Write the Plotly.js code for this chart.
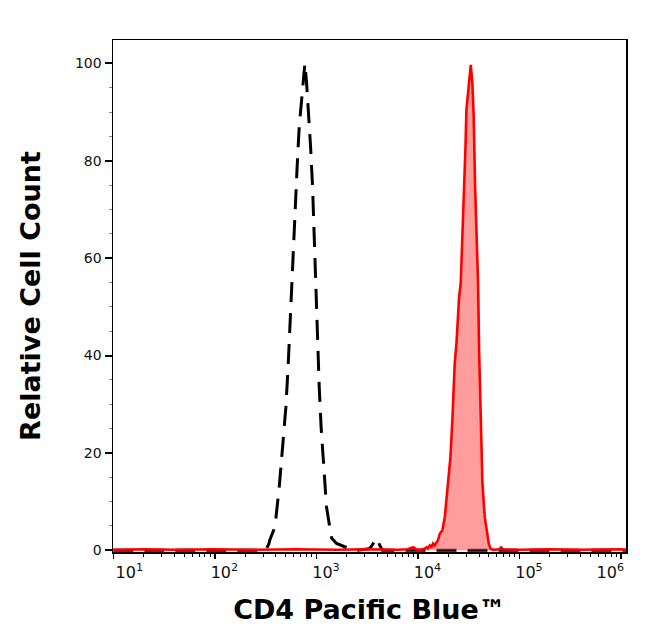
<!DOCTYPE html>
<html>
<head>
<meta charset="utf-8">
<script src="https://cdn.plot.ly/plotly-3.0.1.min.js"></script>
<style>html,body{margin:0;padding:0;background:#fff;}#chart{width:646px;height:641px;}</style>
</head>
<body>
<div id="chart"></div>
<script>
// Control (dashed black) histogram: fluorescence intensity vs relative count
const controlX = [10, 30, 100, 200, 316, 339, 348, 391, 431, 465, 501, 527, 548, 570, 592, 624, 647, 678, 715, 728, 750, 771,
  802, 830, 877, 918, 944, 973, 1005, 1042, 1067, 1114, 1186, 1259, 1337, 1413, 1581, 1778, 2138, 2512,
  3311, 3491, 3715, 3981, 4169, 4467, 10000, 100000, 1000000, 1122000];
const controlY = [0, 0, 0, 0, 0, 1.2, 2.1, 4.8, 13, 21.2, 29.4, 37.7, 45.9, 54.1, 62.3, 70.5, 78.8, 87.0, 91.8, 93.5, 96, 100,
  95.9, 91.1, 82.9, 74.6, 66.4, 58.2, 50, 41.8, 33.6, 25.3, 17.1, 8.9, 5.5, 2.5, 1.4, 1.0, 0.3, 0,
  0.3, 0.8, 1.8, 2.5, 1.2, 0, 0, 0, 0, 0];

// CD4 Pacific Blue stained histogram (red, filled)
const stainedX = [9.94, 20, 40, 100, 251, 631, 1585, 3162, 6310, 7943, 8650, 9120, 9550, 10470, 11700, 12160, 12590, 13090,
  13650, 14130, 14620, 15240, 15810, 16440, 17460, 18410, 19820, 20940, 21930, 22540, 23070, 23990, 24890, 25470,
  26420, 27230, 28510, 29380, 30060, 31190, 33190, 34430, 35480, 36560, 37760, 39170, 40090, 41300, 43250, 45600,
  47970, 49890, 51880, 54950, 63100, 66070, 69180, 100000, 199500, 398100, 1000000, 1122000];
const stainedY = [0.1, 0.2, 0.1, 0.2, 0.1, 0.2, 0.1, 0.2, 0.1, 0.2, 0.5, 0.6, 0.2, 0.1, 0.3, 0.6, 0.4, 1.0,
  0.7, 1.4, 1.0, 1.5, 2.1, 3.4, 4.1, 6.8, 13.7, 19.2, 27.4, 34.2, 38.4, 42.5, 47.9, 52,
  54.8, 61.6, 71.9, 82.2, 90.4, 94.5, 99.7, 95.9, 89, 75.3, 65.1, 54.8, 41.1, 27.4, 13.7, 6.8,
  3.4, 1.4, 0.3, 0.1, 0.2, 0.6, 0.2, 0.1, 0.2, 0.1, 0.2, 0.1];

const decadeVals = [10, 100, 1000, 10000, 100000, 1000000];
const decadeText = ['10<sup>1</sup>', '10<sup>2</sup>', '10<sup>3</sup>', '10<sup>4</sup>', '10<sup>5</sup>', '10<sup>6</sup>'];
const yTickVals = [0, 20, 40, 60, 80, 100];

// label placement offsets (px) relative to each decade tick, styling only
const labelShiftPx = [16, 9.6, 9.6, 9.6, 9.6, -10.6];
const pxPerDecade = 101.6;
const labelVals = decadeVals.map((v, i) => v * Math.pow(10, labelShiftPx[i] / pxPerDecade));

const xRange = [0.997, 6.05];
const font = 'DejaVu Sans, Verdana, sans-serif';

const traces = [
  {
    x: controlX, y: controlY, type: 'scatter', mode: 'lines',
    line: {color: '#000000', width: 3, dash: '20px,11px', shape: 'linear'},
    xaxis: 'x', yaxis: 'y', hoverinfo: 'skip', showlegend: false
  },
  {
    x: stainedX, y: stainedY, type: 'scatter', mode: 'lines',
    fill: 'tozeroy', fillcolor: 'rgba(255,60,60,0.5)',
    line: {color: '#ff0000', width: 2.6},
    xaxis: 'x2', yaxis: 'y', hoverinfo: 'skip', showlegend: false
  }
];

const layout = {
  width: 646, height: 641,
  margin: {l: 113, r: 20, t: 40, b: 89},
  paper_bgcolor: '#ffffff', plot_bgcolor: '#ffffff',
  showlegend: false,
  font: {family: font, color: '#000'},
  xaxis: {
    type: 'log', range: xRange,
    showline: true, linecolor: '#000', linewidth: 1.5, mirror: true,
    showgrid: false, zeroline: false,
    tickmode: 'array', tickvals: decadeVals, showticklabels: false,
    ticks: 'outside', ticklen: 5, tickwidth: 1.5, tickcolor: '#000',
    minor: {ticks: 'outside', ticklen: 3, tickwidth: 1, tickcolor: '#000', dtick: 'D1', showgrid: false}
  },
  xaxis2: {
    type: 'log', range: xRange, overlaying: 'x', anchor: 'y', side: 'bottom',
    showline: false, showgrid: false, zeroline: false,
    tickmode: 'array', tickvals: labelVals, ticktext: decadeText, ticks: '',
    ticklabelstandoff: 9,
    tickfont: {family: font, size: 16, color: '#111'},
    title: {text: 'CD4 Pacific Blue™', font: {family: font, size: 27, color: '#000', weight: 'bold'}, standoff: 19}
  },
  yaxis: {
    range: [-0.35, 104.8],
    showline: true, linecolor: '#000', linewidth: 1.5, mirror: true,
    showgrid: false, zeroline: false,
    tickmode: 'array', tickvals: yTickVals,
    ticks: 'outside', ticklen: 7, tickwidth: 2, tickcolor: '#000',
    minor: {ticks: 'outside', ticklen: 3, tickwidth: 1, tickcolor: '#888', dtick: 5, showgrid: false},
    tickfont: {family: font, size: 14, color: '#111'},
    title: {text: 'Relative Cell Count', font: {family: font, size: 27, color: '#000', weight: 'bold'}, standoff: 26}
  }
};

Plotly.newPlot('chart', traces, layout, {staticPlot: true, displayModeBar: false});
</script>
</body>
</html>
